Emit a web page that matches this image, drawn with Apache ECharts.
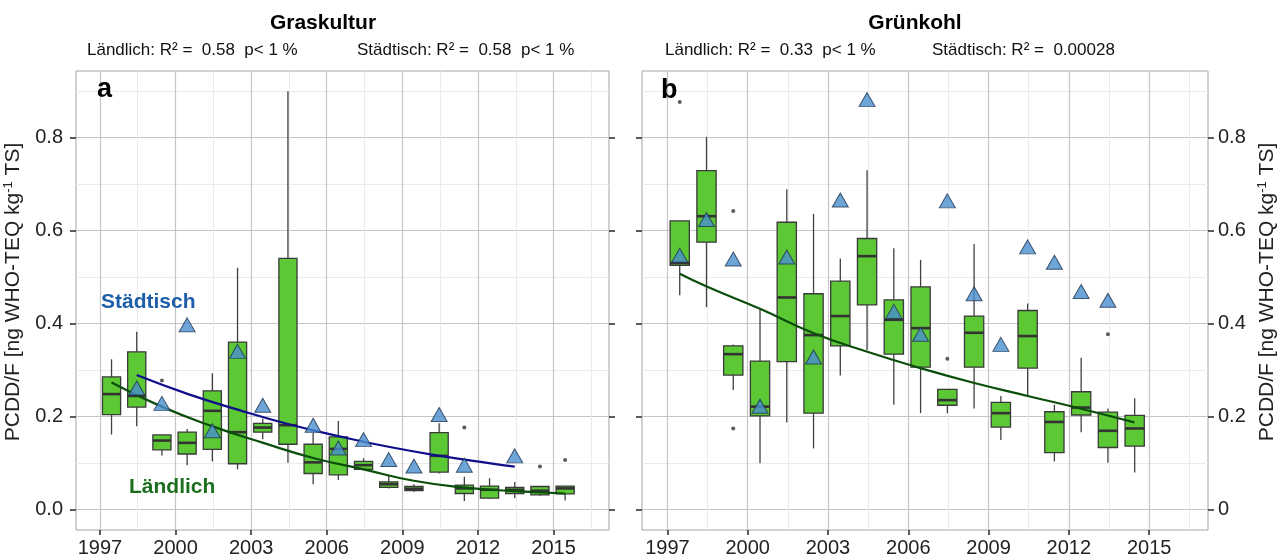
<!DOCTYPE html>
<html>
<head>
<meta charset="utf-8">
<script src="https://cdn.jsdelivr.net/npm/echarts@6/dist/echarts.min.js"></script>
<style>
html,body{margin:0;padding:0;background:#fff;}
#chart{width:1281px;height:558px;}
</style>
</head>
<body>
<div id="chart"></div>
<script>
// ---------------- DATA ----------------
// Panel a: Graskultur (rural boxplots)
const grasYears = [1997,1998,1999,2000,2001,2002,2003,2004,2005,2006,2007,2008,2009,2010,2011,2012,2013,2014,2015];
const grasMin = [0.161,0.179,0.116,0.095,0.103,0.086,0.151,0.100,0.054,0.063,0.084,0.045,0.038,0.077,0.018,0.022,0.024,0.029,0.019];
const grasQ1  = [0.204,0.220,0.128,0.119,0.129,0.098,0.166,0.140,0.077,0.074,0.086,0.047,0.040,0.080,0.034,0.024,0.034,0.031,0.033];
const grasMed = [0.248,0.244,0.148,0.143,0.212,0.166,0.176,0.181,0.101,0.130,0.095,0.054,0.044,0.115,0.045,0.042,0.042,0.040,0.045];
const grasQ3  = [0.285,0.339,0.160,0.166,0.255,0.360,0.185,0.540,0.140,0.156,0.103,0.059,0.049,0.165,0.052,0.050,0.047,0.049,0.050];
const grasMax = [0.323,0.382,0.160,0.173,0.293,0.520,0.195,0.900,0.164,0.190,0.110,0.074,0.054,0.185,0.070,0.067,0.059,0.049,0.050];
const grasOutYears = [1999,2011,2014,2015];
const grasOutVals  = [0.277,0.176,0.092,0.106];
// Panel a: urban points (triangles)
const grasUrbYears = [1998,1999,2000,2001,2002,2003,2005,2006,2007,2008,2009,2010,2011,2013];
const grasUrbVals  = [0.261,0.228,0.397,0.169,0.340,0.224,0.181,0.132,0.150,0.107,0.093,0.204,0.095,0.115];
// Panel a: trend curves
const grasRurTrendX = [1997.46,1999.45,2001.5,2003.48,2005.5,2007.46,2009.4,2011.42,2013.47,2015.46];
const grasRurTrendY = [0.273,0.221,0.178,0.143,0.110,0.086,0.062,0.047,0.039,0.034];
const grasUrbTrendX = [1998.46,2000.5,2002.5,2004.5,2006.5,2008.5,2010.5,2012.5,2013.46];
const grasUrbTrendY = [0.289,0.248,0.214,0.183,0.157,0.134,0.115,0.099,0.092];

// Panel b: Grünkohl (rural boxplots)
const kohlYears = [1997,1998,1999,2000,2001,2002,2003,2004,2005,2006,2007,2008,2009,2010,2011,2012,2013,2014];
const kohlMin = [0.461,0.435,0.257,0.099,0.187,0.131,0.288,0.343,0.225,0.207,0.207,0.217,0.149,0.243,0.103,0.166,0.100,0.079];
const kohlQ1  = [0.525,0.575,0.289,0.201,0.318,0.207,0.352,0.440,0.334,0.306,0.224,0.306,0.177,0.304,0.122,0.203,0.133,0.136];
const kohlMed = [0.530,0.631,0.334,0.221,0.456,0.375,0.416,0.545,0.408,0.390,0.235,0.380,0.207,0.373,0.188,0.219,0.169,0.174];
const kohlQ3  = [0.621,0.729,0.352,0.319,0.618,0.464,0.491,0.583,0.451,0.479,0.258,0.416,0.230,0.428,0.210,0.253,0.209,0.202];
const kohlMax = [0.621,0.802,0.355,0.433,0.689,0.636,0.540,0.730,0.562,0.537,0.258,0.571,0.244,0.443,0.225,0.326,0.217,0.239];
const kohlOutYears = [1997,1999,1999,2007,2013];
const kohlOutVals  = [0.877,0.642,0.174,0.324,0.377];
const kohlUrbYears = [1997,1998,1999,2000,2001,2002,2003,2004,2005,2006,2007,2008,2009,2010,2011,2012,2013];
const kohlUrbVals  = [0.547,0.624,0.539,0.222,0.543,0.328,0.666,0.882,0.426,0.377,0.664,0.464,0.355,0.565,0.532,0.469,0.450];
const kohlRurTrendX = [1997.46,1998.49,2000.48,2002.47,2004.47,2006.45,2008.47,2010.46,2012.42,2014.45];
const kohlRurTrendY = [0.507,0.479,0.431,0.379,0.339,0.304,0.272,0.244,0.217,0.187];

// Tick labels
const xTicks = [1997,2000,2003,2006,2009,2012,2015];
const xMinor = [1998.5,2001.5,2004.5,2007.5,2010.5,2013.5,2016.5];
const yTicks = [0,0.2,0.4,0.6,0.8];
const yMinor = [0.1,0.3,0.5,0.7,0.9];

// ---------------- STYLE / LAYOUT ----------------
const FONT = '"Liberation Sans", Arial, Helvetica, sans-serif';
const X_SHIFT = 0.46, BOX_W = 0.72;
const X_MIN = 1996.05, X_MAX = 2017.2, Y_MIN = -0.0446, Y_MAX = 0.9436;
const GREEN = '#5bc834', EDGE = '#3a3a3a';
const TRI_FILL = '#4a8fd0', TRI_EDGE = '#1e3550';
const LINE_RUR = '#0b4d0b', LINE_URB = '#0e0e8c';
const MAJOR = '#c6c6c6', MINOR = '#ebebeb', TICK = '#333';

const chart = echarts.init(document.getElementById('chart'), null, {renderer:'canvas'});

function boxData(years, mn, q1, md, q3, mx){
  return years.map((y,i)=>[y + X_SHIFT, mn[i], q1[i], md[i], q3[i], mx[i]]);
}
function pairs(xs, ys, shift){ return xs.map((x,i)=>[x + shift, ys[i]]); }

function renderBox(params, api){
  const x = api.value(0);
  const lo = api.coord([x, api.value(1)]);
  const q1 = api.coord([x, api.value(2)]);
  const md = api.coord([x, api.value(3)]);
  const q3 = api.coord([x, api.value(4)]);
  const hi = api.coord([x, api.value(5)]);
  const hw = api.size([BOX_W, 0])[0] / 2;
  const ls = {stroke: '#404040', lineWidth: 1.3};
  return {type:'group', children:[
    {type:'line', shape:{x1:lo[0], y1:lo[1], x2:q1[0], y2:q1[1]}, style:ls},
    {type:'line', shape:{x1:q3[0], y1:q3[1], x2:hi[0], y2:hi[1]}, style:ls},
    {type:'rect', shape:{x:q3[0]-hw, y:q3[1], width:2*hw, height:Math.max(q1[1]-q3[1],1)},
      style:{fill:GREEN, stroke:EDGE, lineWidth:1.3}},
    {type:'line', shape:{x1:md[0]-hw, y1:md[1], x2:md[0]+hw, y2:md[1]}, style:{stroke:'#333', lineWidth:2.6}}
  ]};
}

function xAxes(grid){
  return [
    {gridIndex:grid, type:'value', min:X_MIN, max:X_MAX, position:'bottom',
      axisLine:{show:false, onZero:false},
      axisTick:{show:true, length:5, lineStyle:{color:TICK, width:1.6}, customValues:xTicks},
      axisLabel:{show:true, customValues:xTicks, fontSize:20, color:'#222', margin:8, fontFamily:FONT,
        formatter:v=>String(Math.round(v))},
      splitLine:{show:true, lineStyle:{color:MAJOR, width:1.2}}},
    {gridIndex:grid, type:'value', min:X_MIN, max:X_MAX, position:'top',
      axisLine:{show:false, onZero:false}, axisTick:{show:false, customValues:xMinor},
      axisLabel:{show:false, customValues:xMinor},
      splitLine:{show:true, lineStyle:{color:MINOR, width:1}}}
  ];
}
function yAxes(grid, labelSide){
  const fmt = labelSide==='left' ? (v=>v.toFixed(1)) : (v=> v===0 ? '0' : v.toFixed(1));
  const mk = (pos, showLabel) => ({gridIndex:grid, type:'value', min:Y_MIN, max:Y_MAX, position:pos,
      axisLine:{show:false, onZero:false},
      axisTick:{show:true, length:6, lineStyle:{color:TICK, width:1.6}, customValues:yTicks},
      axisLabel:{show:showLabel, customValues:yTicks, fontSize:20, color:'#222', fontFamily:FONT,
        margin: pos==='left' ? 13 : 10, formatter:fmt},
      splitLine:{show: pos==='left', lineStyle:{color:MAJOR, width:1.2}}});
  return [
    mk('left', labelSide==='left'),
    {gridIndex:grid, type:'value', min:Y_MIN, max:Y_MAX, position:'left',
      axisLine:{show:false, onZero:false}, axisTick:{show:false, customValues:yMinor},
      axisLabel:{show:false, customValues:yMinor},
      splitLine:{show:true, lineStyle:{color:MINOR, width:1}}},
    mk('right', labelSide==='right')
  ];
}

const tri = (xs, ys, xi, yi) => ({type:'scatter', xAxisIndex:xi, yAxisIndex:yi, z:5,
  symbol:'triangle', symbolSize:[16,14], data:pairs(xs, ys, X_SHIFT),
  itemStyle:{color:TRI_FILL, borderColor:TRI_EDGE, borderWidth:1}});
const outl = (xs, ys, xi, yi) => ({type:'scatter', xAxisIndex:xi, yAxisIndex:yi, z:3,
  symbol:'circle', symbolSize:4, data:pairs(xs, ys, X_SHIFT), itemStyle:{color:'#333'}});
const trend = (xs, ys, xi, yi, col) => ({type:'line', xAxisIndex:xi, yAxisIndex:yi, z:4,
  smooth:true, showSymbol:false, symbol:'none', data:pairs(xs, ys, 0),
  lineStyle:{color:col, width:2.2}});

function txt(x, y, text, size, weight, color, align, extra){
  return Object.assign({type:'text', x:x, y:y, z:100,
    style:{text:text, fontSize:size, fontWeight:weight, fontFamily:FONT, fill:color,
      align:align||'left', verticalAlign:'middle'}}, extra||{});
}
const yTitleRich = {sup:{fontSize:13, fontFamily:FONT, fill:'#222', verticalAlign:'top', padding:[0,0,10,0]}};
function yTitle(x, y){
  return {type:'text', x:x, y:y, rotation:Math.PI/2, z:100,
    style:{text:'PCDD/F [ng WHO-TEQ kg{sup|-1} TS]', fontSize:21, fontFamily:FONT, fill:'#222',
      align:'center', verticalAlign:'middle', rich:yTitleRich}};
}

const option = {
  animation:false,
  backgroundColor:'#fff',
  grid:[
    {left:76, top:71, width:533, height:459, show:true, borderColor:'#a3a3a3', borderWidth:1, backgroundColor:'#fff'},
    {left:642, top:71, width:566, height:459, show:true, borderColor:'#a3a3a3', borderWidth:1, backgroundColor:'#fff'}
  ],
  xAxis: xAxes(0).concat(xAxes(1)),
  yAxis: yAxes(0,'left').concat(yAxes(1,'right')),
  series:[
    {type:'custom', xAxisIndex:0, yAxisIndex:0, z:2, renderItem:renderBox,
      encode:{x:0, y:[1,2,3,4,5]}, data:boxData(grasYears, grasMin, grasQ1, grasMed, grasQ3, grasMax)},
    outl(grasOutYears, grasOutVals, 0, 0),
    trend(grasRurTrendX, grasRurTrendY, 0, 0, LINE_RUR),
    trend(grasUrbTrendX, grasUrbTrendY, 0, 0, LINE_URB),
    tri(grasUrbYears, grasUrbVals, 0, 0),
    {type:'custom', xAxisIndex:2, yAxisIndex:3, z:2, renderItem:renderBox,
      encode:{x:0, y:[1,2,3,4,5]}, data:boxData(kohlYears, kohlMin, kohlQ1, kohlMed, kohlQ3, kohlMax)},
    outl(kohlOutYears, kohlOutVals, 2, 3),
    trend(kohlRurTrendX, kohlRurTrendY, 2, 3, LINE_RUR),
    tri(kohlUrbYears, kohlUrbVals, 2, 3)
  ],
  graphic:[
    txt(323, 23, 'Graskultur', 21, 'bold', '#000', 'center'),
    txt(87, 50, 'Ländlich: R² =  0.58  p< 1 %', 17, 'normal', '#111', 'left'),
    txt(357, 50, 'Städtisch: R² =  0.58  p< 1 %', 17, 'normal', '#111', 'left'),
    txt(915, 23, 'Grünkohl', 21, 'bold', '#000', 'center'),
    txt(665, 50, 'Ländlich: R² =  0.33  p< 1 %', 17, 'normal', '#111', 'left'),
    txt(932, 50, 'Städtisch: R² =  0.00028', 17, 'normal', '#111', 'left'),
    txt(97, 90, 'a', 27, 'bold', '#000', 'left'),
    txt(661, 91, 'b', 27, 'bold', '#000', 'left'),
    txt(101, 302, 'Städtisch', 21, 'bold', '#1d5ea8', 'left'),
    txt(129, 487, 'Ländlich', 21, 'bold', '#1b6e1b', 'left'),
    yTitle(13, 292),
    yTitle(1267, 292)
  ]
};
chart.setOption(option);
</script>
</body>
</html>
